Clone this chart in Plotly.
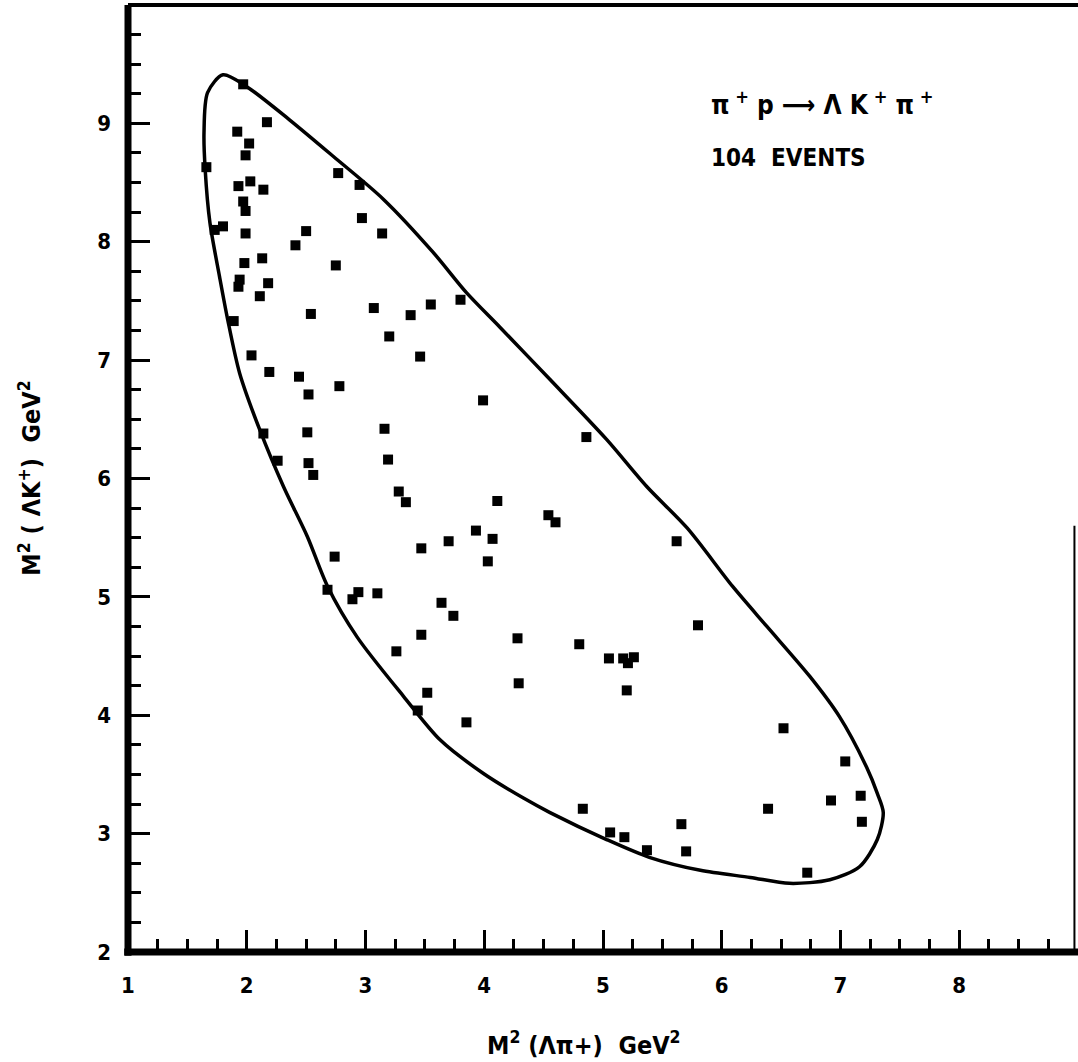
import plotly.graph_objects as go

# ---- data ----
event_x = [1.97, 2.17, 1.92, 2.02, 1.99, 1.66, 2.77, 2.95, 1.93, 2.03,
           2.14, 1.97, 1.99, 2.97, 1.80, 1.73, 1.99, 3.14, 2.50, 2.41,
           2.13, 1.98, 2.75, 1.94, 1.93, 2.18, 2.11, 3.80, 3.55, 3.07,
           3.38, 2.54, 1.89, 3.20, 2.04, 3.46, 2.19, 2.44, 2.78, 2.52,
           3.99, 3.16, 2.14, 2.51, 4.86, 3.19, 2.26, 2.52, 2.56, 3.28,
           3.34, 4.11, 4.54, 4.60, 3.93, 4.07, 3.70, 5.62, 3.47, 2.74,
           4.03, 2.68, 2.94, 2.89, 3.10, 3.64, 3.74, 5.80, 3.47, 4.28,
           4.80, 3.26, 5.05, 5.17, 5.26, 5.21, 4.29, 5.20, 3.52, 3.44,
           3.85, 6.52, 7.04, 6.92, 7.17, 4.83, 6.39, 7.18, 5.66, 5.06,
           5.18, 5.37, 5.70, 6.72]
event_y = [9.33, 9.01, 8.93, 8.83, 8.73, 8.63, 8.58, 8.48, 8.47, 8.51,
           8.44, 8.34, 8.26, 8.20, 8.13, 8.10, 8.07, 8.07, 8.09, 7.97,
           7.86, 7.82, 7.80, 7.68, 7.62, 7.65, 7.54, 7.51, 7.47, 7.44,
           7.38, 7.39, 7.33, 7.20, 7.04, 7.03, 6.90, 6.86, 6.78, 6.71,
           6.66, 6.42, 6.38, 6.39, 6.35, 6.16, 6.15, 6.13, 6.03, 5.89,
           5.80, 5.81, 5.69, 5.63, 5.56, 5.49, 5.47, 5.47, 5.41, 5.34,
           5.30, 5.06, 5.04, 4.98, 5.03, 4.95, 4.84, 4.76, 4.68, 4.65,
           4.60, 4.54, 4.48, 4.48, 4.49, 4.44, 4.27, 4.21, 4.19, 4.04,
           3.94, 3.89, 3.61, 3.28, 3.32, 3.21, 3.21, 3.10, 3.08, 3.01,
           2.97, 2.86, 2.85, 2.67]

boundary_x = [4.33, 3.99, 3.63, 3.32, 2.93, 2.68, 2.51, 2.31, 2.11, 1.94,
              1.84, 1.77, 1.69, 1.65, 1.64, 1.67, 1.80, 2.00, 2.36, 2.73,
              3.15, 3.57, 3.85, 4.13, 4.55, 5.03, 5.37, 5.71, 6.09, 6.38,
              6.74, 6.99, 7.22, 7.31, 7.36, 7.31, 7.16, 6.91, 6.57, 6.24,
              5.82, 5.39, 5.03, 4.55, 4.33]
boundary_y = [3.30, 3.51, 3.79, 4.16, 4.66, 5.09, 5.51, 5.93, 6.41, 6.89,
              7.34, 7.71, 8.16, 8.61, 8.92, 9.26, 9.41, 9.31, 9.03, 8.72,
              8.36, 7.91, 7.57, 7.28, 6.84, 6.33, 5.93, 5.58, 5.09, 4.75,
              4.33, 3.99, 3.56, 3.34, 3.18, 2.95, 2.72, 2.61, 2.58, 2.63,
              2.69, 2.80, 2.95, 3.18, 3.30]

x_ticks = [1, 2, 3, 4, 5, 6, 7, 8]
y_ticks = [2, 3, 4, 5, 6, 7, 8, 9]

FONT = "DejaVu Sans Condensed, DejaVu Sans, sans-serif"

fig = go.Figure()
fig.add_trace(go.Scatter(
    x=boundary_x, y=boundary_y, mode="lines",
    line=dict(color="black", width=3.5, shape="spline", smoothing=0.8),
    hoverinfo="skip", showlegend=False))
fig.add_trace(go.Scatter(
    x=event_x, y=event_y, mode="markers",
    marker=dict(symbol="square", size=10, color="black"),
    showlegend=False))

axis_common = dict(
    showgrid=False, zeroline=False, showline=False,
    ticks="inside", ticklen=22, tickwidth=3, tickcolor="black",
    tickfont=dict(family=FONT, size=22, color="black", weight="bold"),
    minor=dict(dtick=0.25, ticks="inside", ticklen=13, tickwidth=3, tickcolor="black"),
)

fig.update_xaxes(range=[1, 9], tickvals=x_ticks, ticktext=[str(v) for v in x_ticks],
                 ticklabelstandoff=18, **axis_common)
fig.update_yaxes(range=[2, 10], tickvals=y_ticks, ticktext=[str(v) for v in y_ticks],
                 ticklabelstandoff=16, **axis_common)

shapes = [
    dict(type="line", xref="paper", yref="paper", x0=0, x1=0, y0=-0.004, y1=1,
         line=dict(color="black", width=7)),
    dict(type="line", xref="paper", yref="paper", x0=-0.004, x1=1, y0=0, y1=0,
         line=dict(color="black", width=7)),
    dict(type="line", xref="paper", yref="paper", x0=0, x1=1, y0=1, y1=1,
         line=dict(color="black", width=4)),
    dict(type="line", xref="x", yref="y", x0=8.97, x1=8.97, y0=2, y1=5.6,
         line=dict(color="black", width=2)),
]

annotations = [
    dict(text="M<sup>2</sup> (\u039b\u03c0+)  GeV<sup>2</sup>", xref="paper", yref="paper",
         x=0.48, y=-0.097, xanchor="center", yanchor="middle", showarrow=False,
         font=dict(family=FONT, size=25, color="black", weight="bold")),
    dict(text="M<sup>2</sup> ( \u039bK<sup>+</sup>)  GeV<sup>2</sup>", xref="paper", yref="paper",
         x=-0.103, y=0.5, xanchor="center", yanchor="middle", showarrow=False, textangle=-90,
         font=dict(family=FONT, size=25, color="black", weight="bold")),
    dict(text="\u03c0<sup> +</sup> p \u27f6 \u039b K<sup> +</sup> \u03c0<sup> +</sup>", xref="paper", yref="paper",
         x=0.612, y=0.897, xanchor="left", yanchor="middle", showarrow=False,
         font=dict(family=FONT, size=26, color="black", weight="bold")),
    dict(text="104  EVENTS", xref="paper", yref="paper",
         x=0.612, y=0.838, xanchor="left", yanchor="middle", showarrow=False,
         font=dict(family=FONT, size=24, color="black", weight="bold")),
]

fig.update_layout(
    width=1078, height=1062, autosize=False,
    margin=dict(l=128, r=0, t=5, b=110),
    paper_bgcolor="white", plot_bgcolor="white",
    shapes=shapes, annotations=annotations,
    showlegend=False,
)

fig.write_html("out.html", config={"displayModeBar": False},
               post_script="document.body.style.margin='0px';document.body.style.overflow='hidden';")
